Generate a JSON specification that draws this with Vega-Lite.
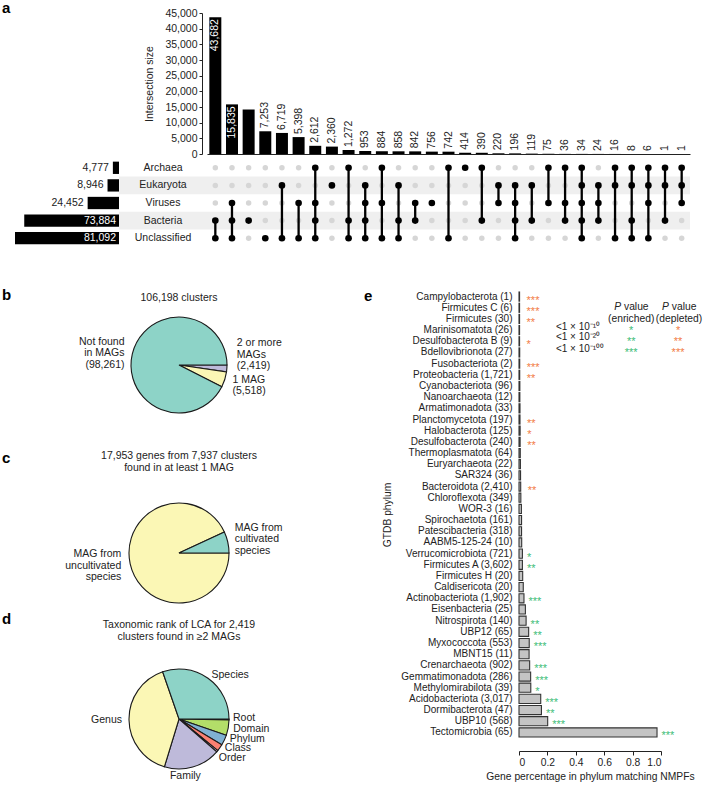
{
"$schema":"https://vega.github.io/schema/vega-lite/v6.json",
"background":"white",
"padding":{"left":2,"top":1,"right":0,"bottom":0},
"config":{
 "font":"Liberation Sans",
 "view":{"stroke":null},
 "axis":{"labelFont":"Liberation Sans","titleFont":"Liberation Sans","labelColor":"#222","titleColor":"#222","domainColor":"#222","tickColor":"#222","titleFontWeight":"normal","grid":false},
 "title":{"font":"Liberation Sans","fontWeight":"normal","fontSize":10.5,"color":"#222","lineHeight":12},
 "text":{"font":"Liberation Sans","fontSize":10.5,"color":"#222","lineBreak":"\n","lineHeight":11.5}
},
"datasets":{
 "cols":[
  {"c":1,"n":43682,"pos":"in","top":"Bacteria","bot":"Unclassified","Archaea":0,"Eukaryota":0,"Viruses":0,"Bacteria":1,"Unclassified":1},
  {"c":2,"n":15835,"pos":"in","top":"Viruses","bot":"Unclassified","Archaea":0,"Eukaryota":0,"Viruses":1,"Bacteria":1,"Unclassified":1},
  {"c":3,"n":14200,"pos":"none","top":"Bacteria","bot":"Bacteria","Archaea":0,"Eukaryota":0,"Viruses":0,"Bacteria":1,"Unclassified":0},
  {"c":4,"n":7253,"pos":"out","top":"Unclassified","bot":"Unclassified","Archaea":0,"Eukaryota":0,"Viruses":0,"Bacteria":0,"Unclassified":1},
  {"c":5,"n":6719,"pos":"out","top":"Eukaryota","bot":"Unclassified","Archaea":0,"Eukaryota":1,"Viruses":0,"Bacteria":0,"Unclassified":1},
  {"c":6,"n":5398,"pos":"out","top":"Viruses","bot":"Unclassified","Archaea":0,"Eukaryota":0,"Viruses":1,"Bacteria":0,"Unclassified":1},
  {"c":7,"n":2612,"pos":"out","top":"Archaea","bot":"Unclassified","Archaea":1,"Eukaryota":0,"Viruses":1,"Bacteria":1,"Unclassified":1},
  {"c":8,"n":2360,"pos":"out","top":"Eukaryota","bot":"Eukaryota","Archaea":0,"Eukaryota":1,"Viruses":0,"Bacteria":0,"Unclassified":0},
  {"c":9,"n":1272,"pos":"out","top":"Archaea","bot":"Unclassified","Archaea":1,"Eukaryota":0,"Viruses":0,"Bacteria":1,"Unclassified":1},
  {"c":10,"n":953,"pos":"out","top":"Eukaryota","bot":"Unclassified","Archaea":0,"Eukaryota":1,"Viruses":1,"Bacteria":1,"Unclassified":1},
  {"c":11,"n":884,"pos":"out","top":"Archaea","bot":"Unclassified","Archaea":1,"Eukaryota":0,"Viruses":1,"Bacteria":0,"Unclassified":1},
  {"c":12,"n":858,"pos":"out","top":"Eukaryota","bot":"Unclassified","Archaea":0,"Eukaryota":1,"Viruses":0,"Bacteria":1,"Unclassified":1},
  {"c":13,"n":842,"pos":"out","top":"Viruses","bot":"Bacteria","Archaea":0,"Eukaryota":0,"Viruses":1,"Bacteria":1,"Unclassified":0},
  {"c":14,"n":756,"pos":"out","top":"Viruses","bot":"Viruses","Archaea":0,"Eukaryota":0,"Viruses":1,"Bacteria":0,"Unclassified":0},
  {"c":15,"n":742,"pos":"out","top":"Archaea","bot":"Unclassified","Archaea":1,"Eukaryota":0,"Viruses":0,"Bacteria":0,"Unclassified":1},
  {"c":16,"n":414,"pos":"out","top":"Archaea","bot":"Archaea","Archaea":1,"Eukaryota":0,"Viruses":0,"Bacteria":0,"Unclassified":0},
  {"c":17,"n":390,"pos":"out","top":"Archaea","bot":"Bacteria","Archaea":1,"Eukaryota":0,"Viruses":0,"Bacteria":1,"Unclassified":0},
  {"c":18,"n":220,"pos":"out","top":"Eukaryota","bot":"Viruses","Archaea":0,"Eukaryota":1,"Viruses":1,"Bacteria":0,"Unclassified":0},
  {"c":19,"n":196,"pos":"out","top":"Eukaryota","bot":"Unclassified","Archaea":0,"Eukaryota":1,"Viruses":1,"Bacteria":1,"Unclassified":1},
  {"c":20,"n":119,"pos":"out","top":"Eukaryota","bot":"Bacteria","Archaea":0,"Eukaryota":1,"Viruses":0,"Bacteria":1,"Unclassified":0},
  {"c":21,"n":75,"pos":"out","top":"Archaea","bot":"Viruses","Archaea":1,"Eukaryota":0,"Viruses":1,"Bacteria":0,"Unclassified":0},
  {"c":22,"n":36,"pos":"out","top":"Archaea","bot":"Bacteria","Archaea":1,"Eukaryota":0,"Viruses":1,"Bacteria":1,"Unclassified":0},
  {"c":23,"n":34,"pos":"out","top":"Archaea","bot":"Unclassified","Archaea":1,"Eukaryota":1,"Viruses":1,"Bacteria":1,"Unclassified":1},
  {"c":24,"n":24,"pos":"out","top":"Eukaryota","bot":"Bacteria","Archaea":0,"Eukaryota":1,"Viruses":1,"Bacteria":1,"Unclassified":0},
  {"c":25,"n":16,"pos":"out","top":"Archaea","bot":"Unclassified","Archaea":1,"Eukaryota":1,"Viruses":0,"Bacteria":0,"Unclassified":1},
  {"c":26,"n":8,"pos":"out","top":"Archaea","bot":"Unclassified","Archaea":1,"Eukaryota":1,"Viruses":0,"Bacteria":1,"Unclassified":1},
  {"c":27,"n":6,"pos":"out","top":"Archaea","bot":"Unclassified","Archaea":1,"Eukaryota":1,"Viruses":1,"Bacteria":0,"Unclassified":1},
  {"c":28,"n":1,"pos":"out","top":"Archaea","bot":"Bacteria","Archaea":1,"Eukaryota":1,"Viruses":0,"Bacteria":1,"Unclassified":0},
  {"c":29,"n":1,"pos":"out","top":"Archaea","bot":"Viruses","Archaea":1,"Eukaryota":1,"Viruses":1,"Bacteria":0,"Unclassified":0}
 ],
 "sets":[
  {"set":"Archaea","n":4777,"pos":"out"},
  {"set":"Eukaryota","n":8946,"pos":"out"},
  {"set":"Viruses","n":24452,"pos":"out"},
  {"set":"Bacteria","n":73884,"pos":"in"},
  {"set":"Unclassified","n":81092,"pos":"in"}
 ],
 "phyla":[
  {"p":"Campylobacterota (1)","v":0.004,"s":"***","d":"dep"},
  {"p":"Firmicutes C (6)","v":0.004,"s":"***","d":"dep"},
  {"p":"Firmicutes (30)","v":0.004,"s":"**","d":"dep"},
  {"p":"Marinisomatota (26)","v":0.004,"s":"","d":""},
  {"p":"Desulfobacterota B (9)","v":0.004,"s":"*","d":"dep"},
  {"p":"Bdellovibrionota (27)","v":0.005,"s":"","d":""},
  {"p":"Fusobacteriota (2)","v":0.005,"s":"***","d":"dep"},
  {"p":"Proteobacteria (1,721)","v":0.005,"s":"**","d":"dep"},
  {"p":"Cyanobacteriota (96)","v":0.006,"s":"","d":""},
  {"p":"Nanoarchaeota (12)","v":0.006,"s":"","d":""},
  {"p":"Armatimonadota (33)","v":0.007,"s":"","d":""},
  {"p":"Planctomycetota (197)","v":0.007,"s":"**","d":"dep"},
  {"p":"Halobacterota (125)","v":0.008,"s":"*","d":"dep"},
  {"p":"Desulfobacterota (240)","v":0.008,"s":"**","d":"dep"},
  {"p":"Thermoplasmatota (64)","v":0.009,"s":"","d":""},
  {"p":"Euryarchaeota (22)","v":0.01,"s":"","d":""},
  {"p":"SAR324 (36)","v":0.011,"s":"","d":""},
  {"p":"Bacteroidota (2,410)","v":0.012,"s":"**","d":"dep"},
  {"p":"Chloroflexota (349)","v":0.013,"s":"","d":""},
  {"p":"WOR-3 (16)","v":0.017,"s":"","d":""},
  {"p":"Spirochaetota (161)","v":0.018,"s":"","d":""},
  {"p":"Patescibacteria (318)","v":0.018,"s":"","d":""},
  {"p":"AABM5-125-24 (10)","v":0.019,"s":"","d":""},
  {"p":"Verrucomicrobiota (721)","v":0.024,"s":"*","d":"enr"},
  {"p":"Firmicutes A (3,602)","v":0.024,"s":"**","d":"enr"},
  {"p":"Firmicutes H (20)","v":0.026,"s":"","d":""},
  {"p":"Caldisericota (20)","v":0.03,"s":"","d":""},
  {"p":"Actinobacteriota (1,902)","v":0.035,"s":"***","d":"enr"},
  {"p":"Eisenbacteria (25)","v":0.045,"s":"","d":""},
  {"p":"Nitrospirota (140)","v":0.05,"s":"**","d":"enr"},
  {"p":"UBP12 (65)","v":0.068,"s":"**","d":"enr"},
  {"p":"Myxococcota (553)","v":0.072,"s":"***","d":"enr"},
  {"p":"MBNT15 (11)","v":0.071,"s":"","d":""},
  {"p":"Crenarchaeota (902)","v":0.075,"s":"***","d":"enr"},
  {"p":"Gemmatimonadota (286)","v":0.082,"s":"***","d":"enr"},
  {"p":"Methylomirabilota (39)","v":0.083,"s":"*","d":"enr"},
  {"p":"Acidobacteriota (3,017)","v":0.153,"s":"***","d":"enr"},
  {"p":"Dormibacterota (47)","v":0.158,"s":"**","d":"enr"},
  {"p":"UBP10 (568)","v":0.202,"s":"***","d":"enr"},
  {"p":"Tectomicrobia (65)","v":0.972,"s":"***","d":"enr"}
 ]
},
"spacing":41,
"vconcat":[
 {
  "bounds":"flush","columns":3,"spacing":{"row":5,"column":0},
  "concat":[
   {"width":104,"height":141,"title":{"text":"a","anchor":"start","frame":"group","fontWeight":"bold","fontSize":15,"color":"#000","dx":-13,"offset":-3},"data":{"values":[]},"mark":"text","encoding":{}},
   {"width":88,"height":141,"data":{"values":[]},"mark":"text","encoding":{}},
   {"width":483,"height":141,"data":{"name":"cols"},
    "encoding":{
     "x":{"field":"c","type":"ordinal","scale":{"type":"band","paddingInner":0.28,"paddingOuter":0.14},"axis":{"labels":false,"ticks":false,"title":null,"domainWidth":1}},
     "y":{"field":"n","type":"quantitative","scale":{"domain":[0,45000],"nice":false},"axis":{"values":[0,5000,10000,15000,20000,25000,30000,35000,40000,45000],"format":",.0f","title":"Intersection size","offset":5,"tickSize":3,"labelPadding":2,"labelFontSize":10.5,"titleFontSize":10.5,"titlePadding":10}}
    },
    "layer":[
     {"mark":{"type":"bar","color":"#000"}},
     {"transform":[{"filter":"datum.pos == 'in'"}],"mark":{"type":"text","angle":270,"align":"right","baseline":"middle","dx":-2,"color":"#fff"},"encoding":{"text":{"field":"n","format":","}}},
     {"transform":[{"filter":"datum.pos == 'out'"}],"mark":{"type":"text","angle":270,"align":"left","baseline":"middle","dx":3},"encoding":{"text":{"field":"n","format":","}}}
    ]
   },
   {"width":104,"height":88,"data":{"name":"sets"},
    "encoding":{"y":{"field":"set","type":"nominal","scale":{"domain":["Archaea","Eukaryota","Viruses","Bacteria","Unclassified"],"paddingInner":0.3,"paddingOuter":0.15},"axis":null}},
    "layer":[
     {"mark":{"type":"bar","color":"#000"},"encoding":{"x":{"field":"n","type":"quantitative","scale":{"domain":[0,81092],"reverse":true,"nice":false},"axis":null}}},
     {"transform":[{"filter":"datum.pos == 'out'"}],"mark":{"type":"text","align":"right","baseline":"middle","dx":-4},"encoding":{"x":{"field":"n","type":"quantitative"},"text":{"field":"n","format":","}}},
     {"transform":[{"filter":"datum.pos == 'in'"}],"mark":{"type":"text","align":"right","baseline":"middle","dx":-3,"color":"#fff"},"encoding":{"x":{"datum":0,"type":"quantitative"},"text":{"field":"n","format":","}}}
    ]
   },
   {"width":88,"height":88,
    "layer":[
     {"data":{"values":[{"set":"Eukaryota"},{"set":"Bacteria"}]},"mark":{"type":"rect","color":"#efefef"},"encoding":{"y":{"field":"set","type":"nominal","scale":{"type":"band","domain":["Archaea","Eukaryota","Viruses","Bacteria","Unclassified"],"paddingInner":0,"paddingOuter":0},"axis":null}}},
     {"data":{"name":"sets"},"mark":{"type":"text","baseline":"middle"},"encoding":{"y":{"field":"set","type":"nominal","axis":null},"text":{"field":"set"}}}
    ]
   },
   {"width":483,"height":88,
    "layer":[
     {"data":{"values":[{"set":"Eukaryota"},{"set":"Bacteria"}]},"mark":{"type":"rect","color":"#efefef"},"encoding":{"y":{"field":"set","type":"nominal","scale":{"type":"band","domain":["Archaea","Eukaryota","Viruses","Bacteria","Unclassified"],"paddingInner":0,"paddingOuter":0},"axis":null}}},
     {"data":{"name":"cols"},"transform":[{"fold":["Archaea","Eukaryota","Viruses","Bacteria","Unclassified"],"as":["set","member"]},{"filter":"datum.member == 0"}],"mark":{"type":"circle","color":"#d6d6d6","opacity":1,"size":30},"encoding":{"x":{"field":"c","type":"ordinal","scale":{"type":"band","paddingInner":0.28,"paddingOuter":0.14},"axis":null},"y":{"field":"set","type":"nominal"}}},
     {"data":{"name":"cols"},"mark":{"type":"rule","color":"#000","strokeWidth":2.3},"encoding":{"x":{"field":"c","type":"ordinal"},"y":{"field":"top","type":"nominal"},"y2":{"field":"bot"}}},
     {"data":{"name":"cols"},"transform":[{"fold":["Archaea","Eukaryota","Viruses","Bacteria","Unclassified"],"as":["set","member"]},{"filter":"datum.member == 1"}],"mark":{"type":"circle","color":"#000","opacity":1,"size":44},"encoding":{"x":{"field":"c","type":"ordinal"},"y":{"field":"set","type":"nominal"}}}
    ]
   }
  ]
 },
 {"spacing":81,"hconcat":[
  {"spacing":-10,"vconcat":[
   {"width":214,"height":1,"title":{"text":"b","anchor":"start","frame":"group","fontWeight":"bold","fontSize":15,"color":"#000","dx":-13,"offset":-12},"data":{"values":[]},"mark":"text","encoding":{}},
   {"spacing":6,"vconcat":[
    {"spacing":35,"vconcat":[
     {"bounds":"flush","spacing":0,"hconcat":[
      {"width":114,"height":100,"data":{"values":[]},"mark":"text","encoding":{}},
      {"width":100,"height":100,
       "title":{"text":"106,198 clusters","offset":11},
       "data":{"values":[
        {"k":1,"cat":"2 or more MAGs","n":2419,"lab":"2 or more\nMAGs\n(2,419)"},
        {"k":2,"cat":"1 MAG","n":5518,"lab":"1 MAG\n(5,518)"},
        {"k":3,"cat":"Not found in MAGs","n":98261,"lab":"Not found\nin MAGs\n(98,261)"}]},
       "encoding":{"theta":{"field":"n","type":"quantitative","stack":true,"scale":{"range":[1.5708,7.854]}},"order":{"field":"k","type":"quantitative"}},
       "layer":[
        {"mark":{"type":"arc","outerRadius":48,"stroke":"#1a1a1a","strokeWidth":1.1},"encoding":{"color":{"field":"cat","type":"nominal","scale":{"domain":["2 or more MAGs","1 MAG","Not found in MAGs","MAG from uncultivated species","MAG from cultivated species","Root","Domain","Phylum","Class","Order","Family","Genus","Species"],"range":["#bebada","#fbf7b5","#8dd3c7","#fbf7b5","#8dd3c7","#fdb462","#b3de69","#80b1d3","#fb8072","#fccde5","#bebada","#fbf7b5","#8dd3c7"]},"legend":null}}},
        {"mark":{"type":"text","radius":56,"align":"left","baseline":"middle","dx":2,"dy":-26},"encoding":{"text":{"condition":{"test":"datum.k == 1","field":"lab"},"value":""}}},
        {"mark":{"type":"text","radius":56,"align":"left","baseline":"middle","dx":0,"dy":-2},"encoding":{"text":{"condition":{"test":"datum.k == 2","field":"lab"},"value":""}}},
        {"mark":{"type":"text","radius":56,"align":"right","baseline":"middle","dx":0,"dy":-10},"encoding":{"text":{"condition":{"test":"datum.k == 3","field":"lab"},"value":""}}}
       ]
      }
     ]},
     {"bounds":"flush","spacing":0,"hconcat":[
      {"width":114,"height":100,"title":{"text":"c","anchor":"start","frame":"group","fontWeight":"bold","fontSize":15,"color":"#000","dx":-13,"offset":37},"data":{"values":[]},"mark":"text","encoding":{}},
      {"width":100,"height":100,
       "title":{"text":["17,953 genes from 7,937 clusters","found in at least 1 MAG"],"offset":27},
       "data":{"values":[
        {"k":1,"cat":"MAG from uncultivated species","n":16713,"lab":"MAG from\nuncultivated\nspecies"},
        {"k":2,"cat":"MAG from cultivated species","n":1240,"lab":"MAG from\ncultivated\nspecies"}]},
       "encoding":{"theta":{"field":"n","type":"quantitative","stack":true,"scale":{"range":[1.5708,7.854]}},"order":{"field":"k","type":"quantitative"}},
       "layer":[
        {"mark":{"type":"arc","outerRadius":50,"stroke":"#1a1a1a","strokeWidth":1.1},"encoding":{"color":{"field":"cat","type":"nominal","scale":{"domain":["2 or more MAGs","1 MAG","Not found in MAGs","MAG from uncultivated species","MAG from cultivated species","Root","Domain","Phylum","Class","Order","Family","Genus","Species"],"range":["#bebada","#fbf7b5","#8dd3c7","#fbf7b5","#8dd3c7","#fdb462","#b3de69","#80b1d3","#fb8072","#fccde5","#bebada","#fbf7b5","#8dd3c7"]},"legend":null}}},
        {"mark":{"type":"text","radius":56,"align":"right","baseline":"middle","dx":-3,"dy":-11},"encoding":{"text":{"condition":{"test":"datum.k == 1","field":"lab"},"value":""}}},
        {"mark":{"type":"text","radius":56,"align":"left","baseline":"middle","dx":1,"dy":-13},"encoding":{"text":{"condition":{"test":"datum.k == 2","field":"lab"},"value":""}}}
       ]
      }
     ]}
    ]},
    {"bounds":"flush","spacing":0,"hconcat":[
     {"width":114,"height":100,"title":{"text":"d","anchor":"start","frame":"group","fontWeight":"bold","fontSize":15,"color":"#000","dx":-13,"offset":42},"data":{"values":[]},"mark":"text","encoding":{}},
     {"width":100,"height":100,
      "title":{"text":["Taxonomic rank of LCA for 2,419","clusters found in ≥2 MAGs"],"offset":22},
      "data":{"values":[
       {"k":1,"cat":"Root","n":7},
       {"k":2,"cat":"Domain","n":121},
       {"k":3,"cat":"Phylum","n":81},
       {"k":4,"cat":"Class","n":54},
       {"k":5,"cat":"Order","n":13},
       {"k":6,"cat":"Family","n":443},
       {"k":7,"cat":"Genus","n":967},
       {"k":8,"cat":"Species","n":733}]},
      "encoding":{"theta":{"field":"n","type":"quantitative","stack":true,"scale":{"range":[1.5708,7.854]}},"order":{"field":"k","type":"quantitative"}},
      "layer":[
       {"mark":{"type":"arc","outerRadius":50,"stroke":"#1a1a1a","strokeWidth":1.1},"encoding":{"color":{"field":"cat","type":"nominal","scale":{"domain":["2 or more MAGs","1 MAG","Not found in MAGs","MAG from uncultivated species","MAG from cultivated species","Root","Domain","Phylum","Class","Order","Family","Genus","Species"],"range":["#bebada","#fbf7b5","#8dd3c7","#fbf7b5","#8dd3c7","#fdb462","#b3de69","#80b1d3","#fb8072","#fccde5","#bebada","#fbf7b5","#8dd3c7"]},"legend":null}}},
       {"mark":{"type":"text","radius":56,"align":"left","baseline":"middle","dx":0,"dy":2},"encoding":{"text":{"condition":{"test":"datum.k == 8","field":"cat"},"value":""}}},
       {"mark":{"type":"text","radius":56,"align":"left","baseline":"middle","dx":-2,"dy":-2},"encoding":{"text":{"condition":{"test":"datum.k == 1","field":"cat"},"value":""}}},
       {"mark":{"type":"text","radius":56,"align":"left","baseline":"middle","dx":-1,"dy":0},"encoding":{"text":{"condition":{"test":"datum.k == 2","field":"cat"},"value":""}}},
       {"mark":{"type":"text","radius":56,"align":"left","baseline":"middle","dx":0,"dy":-4},"encoding":{"text":{"condition":{"test":"datum.k == 3","field":"cat"},"value":""}}},
       {"mark":{"type":"text","radius":56,"align":"left","baseline":"middle","dx":0,"dy":-3},"encoding":{"text":{"condition":{"test":"datum.k == 4","field":"cat"},"value":""}}},
       {"mark":{"type":"text","radius":56,"align":"left","baseline":"middle","dx":-3,"dy":3},"encoding":{"text":{"condition":{"test":"datum.k == 5","field":"cat"},"value":""}}},
       {"mark":{"type":"text","radius":56,"align":"center","baseline":"middle","dx":-9,"dy":3},"encoding":{"text":{"condition":{"test":"datum.k == 6","field":"cat"},"value":""}}},
       {"mark":{"type":"text","radius":56,"align":"right","baseline":"middle","dx":-1,"dy":0},"encoding":{"text":{"condition":{"test":"datum.k == 7","field":"cat"},"value":""}}}
      ]
     }
    ]}
   ]}
  ]},
  {"width":142,"height":447,
   "data":{"name":"phyla"},
   "encoding":{
    "y":{"field":"p","type":"nominal","scale":{"type":"band","paddingInner":0.18,"paddingOuter":0.09,"domain":["Campylobacterota (1)","Firmicutes C (6)","Firmicutes (30)","Marinisomatota (26)","Desulfobacterota B (9)","Bdellovibrionota (27)","Fusobacteriota (2)","Proteobacteria (1,721)","Cyanobacteriota (96)","Nanoarchaeota (12)","Armatimonadota (33)","Planctomycetota (197)","Halobacterota (125)","Desulfobacterota (240)","Thermoplasmatota (64)","Euryarchaeota (22)","SAR324 (36)","Bacteroidota (2,410)","Chloroflexota (349)","WOR-3 (16)","Spirochaetota (161)","Patescibacteria (318)","AABM5-125-24 (10)","Verrucomicrobiota (721)","Firmicutes A (3,602)","Firmicutes H (20)","Caldisericota (20)","Actinobacteriota (1,902)","Eisenbacteria (25)","Nitrospirota (140)","UBP12 (65)","Myxococcota (553)","MBNT15 (11)","Crenarchaeota (902)","Gemmatimonadota (286)","Methylomirabilota (39)","Acidobacteriota (3,017)","Dormibacterota (47)","UBP10 (568)","Tectomicrobia (65)"]},"axis":{"title":"GTDB phylum","domain":false,"ticks":false,"labelPadding":7,"labelFontSize":10,"titleFontSize":10.3,"titlePadding":8,"labelLimit":220}},
    "x":{"field":"v","type":"quantitative","scale":{"domain":[0,1],"nice":false},"axis":{"values":[0,0.2,0.4,0.6,0.8,1],"labelExpr":"datum.value == 0 ? '0' : format(datum.value, '.1f')","offset":13,"tickSize":4,"labelFontSize":10.3,"titleFontSize":10.3,"title":"Gene percentage in phylum matching NMPFs","titlePadding":4,"labelPadding":2}}
   },
   "layer":[
    {"mark":{"type":"bar","fill":"#c4c4c4","stroke":"#333","strokeWidth":1.1}},
    {"transform":[{"filter":"datum.d == 'dep'"}],"mark":{"type":"text","align":"left","baseline":"middle","dx":7,"dy":4,"fontSize":11,"color":"#f27c45"},"encoding":{"text":{"field":"s"}}},
    {"transform":[{"filter":"datum.d == 'enr'"}],"mark":{"type":"text","align":"left","baseline":"middle","dx":4.5,"dy":4,"fontSize":11,"color":"#3dbd77"},"encoding":{"text":{"field":"s"}}},
    {"transform":[{"filter":"datum.p == 'Campylobacterota (1)'"}],"mark":{"type":"text","align":"left","baseline":"middle","fontWeight":"bold","fontSize":15,"color":"#000","dx":-155,"dy":-1,"text":"e"},"encoding":{"x":{"datum":0,"type":"quantitative"}}},
    {"transform":[{"filter":"datum.p == 'Firmicutes C (6)'"}],"mark":{"type":"text","align":"left","baseline":"middle","fontStyle":"italic","fontSize":10.3,"dx":-17,"dy":-1,"text":"P"},"encoding":{"x":{"datum":0.79,"type":"quantitative"}}},
    {"transform":[{"filter":"datum.p == 'Firmicutes C (6)'"}],"mark":{"type":"text","align":"left","baseline":"middle","fontSize":10.3,"dx":-7.2,"dy":-1,"text":"value"},"encoding":{"x":{"datum":0.79,"type":"quantitative"}}},
    {"transform":[{"filter":"datum.p == 'Firmicutes (30)'"}],"mark":{"type":"text","align":"center","baseline":"middle","fontSize":10.3,"text":"(enriched)"},"encoding":{"x":{"datum":0.79,"type":"quantitative"}}},
    {"transform":[{"filter":"datum.p == 'Firmicutes C (6)'"}],"mark":{"type":"text","align":"left","baseline":"middle","fontStyle":"italic","fontSize":10.3,"dx":-17,"dy":-1,"text":"P"},"encoding":{"x":{"datum":1.127,"type":"quantitative"}}},
    {"transform":[{"filter":"datum.p == 'Firmicutes C (6)'"}],"mark":{"type":"text","align":"left","baseline":"middle","fontSize":10.3,"dx":-7.2,"dy":-1,"text":"value"},"encoding":{"x":{"datum":1.127,"type":"quantitative"}}},
    {"transform":[{"filter":"datum.p == 'Firmicutes (30)'"}],"mark":{"type":"text","align":"center","baseline":"middle","fontSize":10.3,"text":"(depleted)"},"encoding":{"x":{"datum":1.127,"type":"quantitative"}}},
    {"transform":[{"filter":"datum.p == 'Marinisomatota (26)'"}],"mark":{"type":"text","align":"left","baseline":"middle","fontSize":10,"dy":-3,"text":"<1 × 10⁻¹⁰"},"encoding":{"x":{"datum":0.26,"type":"quantitative"}}},
    {"transform":[{"filter":"datum.p == 'Desulfobacterota B (9)'"}],"mark":{"type":"text","align":"left","baseline":"middle","fontSize":10,"dy":-4,"text":"<1 × 10⁻²⁰"},"encoding":{"x":{"datum":0.26,"type":"quantitative"}}},
    {"transform":[{"filter":"datum.p == 'Bdellovibrionota (27)'"}],"mark":{"type":"text","align":"left","baseline":"middle","fontSize":10,"dy":-3,"text":"<1 × 10⁻¹⁰⁰"},"encoding":{"x":{"datum":0.26,"type":"quantitative"}}},
    {"transform":[{"filter":"datum.p == 'Marinisomatota (26)'"}],"mark":{"type":"text","align":"center","baseline":"middle","fontSize":11,"dy":1,"color":"#3dbd77","text":"*"},"encoding":{"x":{"datum":0.79,"type":"quantitative"}}},
    {"transform":[{"filter":"datum.p == 'Desulfobacterota B (9)'"}],"mark":{"type":"text","align":"center","baseline":"middle","fontSize":11,"dy":1,"color":"#3dbd77","text":"**"},"encoding":{"x":{"datum":0.79,"type":"quantitative"}}},
    {"transform":[{"filter":"datum.p == 'Bdellovibrionota (27)'"}],"mark":{"type":"text","align":"center","baseline":"middle","fontSize":11,"dy":1,"color":"#3dbd77","text":"***"},"encoding":{"x":{"datum":0.79,"type":"quantitative"}}},
    {"transform":[{"filter":"datum.p == 'Marinisomatota (26)'"}],"mark":{"type":"text","align":"center","baseline":"middle","fontSize":11,"dy":1,"color":"#f27c45","text":"*"},"encoding":{"x":{"datum":1.12,"type":"quantitative"}}},
    {"transform":[{"filter":"datum.p == 'Desulfobacterota B (9)'"}],"mark":{"type":"text","align":"center","baseline":"middle","fontSize":11,"dy":1,"color":"#f27c45","text":"**"},"encoding":{"x":{"datum":1.12,"type":"quantitative"}}},
    {"transform":[{"filter":"datum.p == 'Bdellovibrionota (27)'"}],"mark":{"type":"text","align":"center","baseline":"middle","fontSize":11,"dy":1,"color":"#f27c45","text":"***"},"encoding":{"x":{"datum":1.12,"type":"quantitative"}}}
   ]
  }
 ]}
]
}
